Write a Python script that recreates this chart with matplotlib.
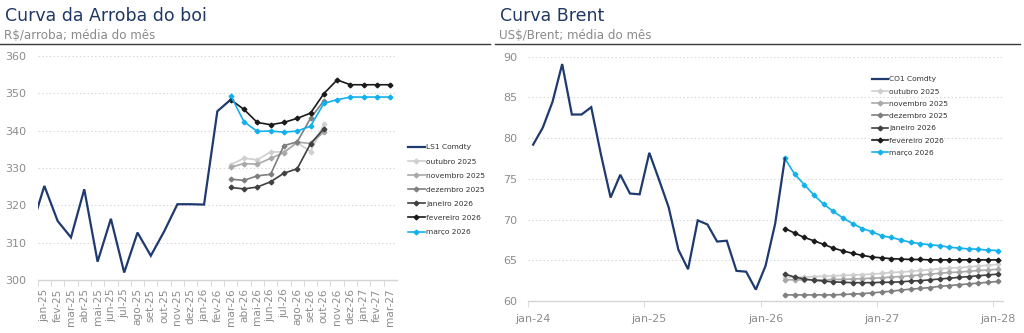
import matplotlib
matplotlib.use("Agg")
import matplotlib.pyplot as plt
from matplotlib.lines import Line2D

plt.rcParams["font.family"] = ["DejaVu Sans"]

# ---------------- Arroba do boi (R$/arroba) ----------------
arroba_meses = ["dez-24",
                "jan-25", "fev-25", "mar-25", "abr-25", "mai-25", "jun-25",
                "jul-25", "ago-25", "set-25", "out-25", "nov-25", "dez-25",
                "jan-26", "fev-26", "mar-26", "abr-26", "mai-26", "jun-26",
                "jul-26", "ago-26", "set-26", "out-26", "nov-26", "dez-26",
                "jan-27", "fev-27", "mar-27"]

ls1_valores = [313.6, 325.2, 315.8, 311.4, 324.3, 304.9, 316.4, 302.0,
               312.7, 306.5, 313.0, 320.3, 320.3, 320.2, 345.2, 348.3]

arroba_curvas = {
    "outubro 2025":   [330.9, 332.6, 332.2, 334.3, 334.3, 336.8, 334.4, 341.7],
    "novembro 2025":  [330.2, 331.2, 331.0, 332.6, 334.1, 336.9, 336.6, 339.6],
    "dezembro 2025":  [327.0, 326.7, 327.9, 328.3, 336.0, 337.0, 343.3, 348.0],
    "janeiro 2026":   [324.8, 324.4, 324.9, 326.3, 328.6, 329.8, 336.5, 340.5],
    "fevereiro 2026": [348.3, 345.7, 342.2, 341.6, 342.2, 343.3, 344.7, 349.9,
                       353.6, 352.3, 352.3, 352.3, 352.3],
    "março 2026":     [349.4, 342.4, 339.8, 339.9, 339.6, 339.9, 341.2, 347.3,
                       348.3, 349.0, 349.0, 349.0, 349.0],
}
arroba_inicio_curvas = "mar-26"

# ---------------- Brent (US$/barril) ----------------
brent_meses = [f"{m}-{a}" for a in ("24", "25", "26", "27")
               for m in ("jan", "fev", "mar", "abr", "mai", "jun",
                         "jul", "ago", "set", "out", "nov", "dez")] + ["jan-28"]

co1_valores = [79.2, 81.3, 84.45, 89.1, 82.9, 82.9, 83.8, 78.0, 72.7, 75.5,
               73.2, 73.1, 78.2, 74.9, 71.5, 66.3, 63.9, 69.9, 69.4, 67.3,
               67.4, 63.7, 63.6, 61.4, 64.3, 69.5, 77.5]

brent_curvas = {
    "outubro 2025":   [62.9, 62.9, 62.95, 63.0, 63.05, 63.1, 63.15, 63.2, 63.25,
                       63.3, 63.4, 63.5, 63.55, 63.65, 63.75, 63.85, 63.95, 64.05,
                       64.1, 64.2, 64.3, 64.4, 64.5],
    "novembro 2025":  [62.6, 62.6, 62.6, 62.6, 62.6, 62.65, 62.65, 62.7, 62.75,
                       62.8, 62.85, 62.95, 63.0, 63.1, 63.2, 63.3, 63.4, 63.5,
                       63.55, 63.65, 63.75, 63.8, 63.9],
    "dezembro 2025":  [60.75, 60.75, 60.75, 60.75, 60.75, 60.75, 60.8, 60.85, 60.9,
                       61.0, 61.1, 61.2, 61.35, 61.45, 61.55, 61.65, 61.8, 61.9,
                       62.0, 62.1, 62.2, 62.3, 62.4],
    "janeiro 2026":   [63.3, 62.95, 62.7, 62.55, 62.45, 62.35, 62.3, 62.25, 62.25,
                       62.25, 62.3, 62.3, 62.35, 62.45, 62.5, 62.6, 62.7, 62.8,
                       62.9, 63.0, 63.1, 63.2, 63.3],
    "fevereiro 2026": [68.9, 68.35, 67.8, 67.4, 66.95, 66.5, 66.15, 65.85, 65.6,
                       65.4, 65.3, 65.2, 65.15, 65.1, 65.1, 65.05, 65.05, 65.05,
                       65.05, 65.05, 65.05, 65.05, 65.05],
    "março 2026":     [77.5, 75.6, 74.3, 73.0, 71.9, 71.0, 70.2, 69.5, 68.9,
                       68.5, 68.0, 67.8, 67.5, 67.2, 67.05, 66.9, 66.8, 66.6,
                       66.5, 66.4, 66.35, 66.25, 66.2],
}
brent_inicio_curvas = "mar-26"
brent_rotulos = ["jan-24", "jan-25", "jan-26", "jan-27", "jan-28"]

# ---------------- styles ----------------
AZUL = "#1F3A6E"
cores = {
    "outubro 2025": "#CFCFCF",
    "novembro 2025": "#A9A9A9",
    "dezembro 2025": "#7F7F7F",
    "janeiro 2026": "#404040",
    "fevereiro 2026": "#1A1A1A",
    "março 2026": "#13B0EE",
}
CINZA_TXT = "#8C8C8C"
CINZA_GRADE = "#D5D5D5"
W, H = 1024, 333


def fx(px):
    return px / W


def fy(px):
    return 1 - px / H


fig = plt.figure(figsize=(W / 100, H / 100), dpi=100)


def cabecalho(x0, x1, titulo, subtitulo):
    fig.text(fx(x0), fy(20.7), titulo, fontsize=12.5, color="#1F3864",
             ha="left", va="baseline")
    fig.text(fx(x0 - 1), fy(39.3), subtitulo, fontsize=8.6, color="#8A8A8A",
             ha="left", va="baseline")
    fig.add_artist(Line2D([fx(x0 - 5), fx(x1)], [fy(44), fy(44)],
                          color="#3A3A3A", lw=1.0, transform=fig.transFigure))


def estilo_eixo(ax, yticks):
    for s in ("top", "right", "left"):
        ax.spines[s].set_visible(False)
    ax.spines["bottom"].set_color(CINZA_GRADE)
    ax.spines["bottom"].set_linewidth(1.0)
    ax.set_yticks(yticks)
    ax.tick_params(axis="y", length=0, labelsize=8, labelcolor=CINZA_TXT, pad=8)
    for v in yticks[1:]:
        ax.axhline(v, color=CINZA_GRADE, lw=0.8, ls=(0, (1.2, 2.2)), zorder=0)


# ---------- left panel ----------
cabecalho(5, 490, "Curva da Arroba do boi", "R$/arroba; média do mês")
ax1 = fig.add_axes([fx(37.7), fy(280), fx(397) - fx(37.7), fy(56) - fy(280)])
xs = list(range(len(arroba_meses)))
ax1.plot(xs[:len(ls1_valores)], ls1_valores, color=AZUL, lw=1.6,
         label="LS1 Comdty", zorder=5, solid_joinstyle="miter")
i0 = arroba_meses.index(arroba_inicio_curvas)
for nome, vals in arroba_curvas.items():
    ax1.plot(xs[i0:i0 + len(vals)], vals, color=cores[nome], lw=1.2,
             marker="D", ms=2.4, label=nome, zorder=4)
ax1.set_xlim(0.5, len(arroba_meses) - 0.5)
ax1.set_ylim(300, 360)
estilo_eixo(ax1, list(range(300, 361, 10)))
ax1.set_xticks(xs[1:])
ax1.set_xticklabels(arroba_meses[1:], rotation=90, fontsize=7.6, color=CINZA_TXT)
ax1.set_xticks([x + 0.5 for x in xs[:-1]], minor=True)
ax1.tick_params(axis="x", which="major", length=0, pad=6)
ax1.tick_params(axis="x", which="minor", length=4, color=CINZA_GRADE)
leg1 = ax1.legend(loc="center left", bbox_to_anchor=(fx(408), fy(189.7)),
                  bbox_transform=fig.transFigure, frameon=False, fontsize=5.4,
                  handlelength=2.25, handletextpad=0.1, labelspacing=1.05,
                  borderpad=0, borderaxespad=0, labelcolor="#333333")

# ---------- right panel ----------
cabecalho(500, 1020, "Curva Brent", "US$/Brent; média do mês")
ax2 = fig.add_axes([fx(528.3), fy(301), fx(1002.7) - fx(528.3), fy(56.7) - fy(301)])
ms = list(range(len(brent_meses)))
ax2.plot(ms[:len(co1_valores)], co1_valores, color=AZUL, lw=1.6,
         label="CO1 Comdty", zorder=5, solid_joinstyle="miter")
j0 = brent_meses.index(brent_inicio_curvas)
for nome, vals in brent_curvas.items():
    ax2.plot(ms[j0:j0 + len(vals)], vals, color=cores[nome], lw=1.2,
             marker="D", ms=2.4, label=nome, zorder=4)
ax2.set_xlim(-0.5, len(brent_meses) - 0.5)
ax2.set_ylim(60, 90)
estilo_eixo(ax2, list(range(60, 91, 5)))
pos_rot = [brent_meses.index(r) for r in brent_rotulos]
ax2.set_xticks(pos_rot)
ax2.set_xticklabels(brent_rotulos, fontsize=8, color=CINZA_TXT)
ax2.set_xticks([p - 0.5 for p in pos_rot], minor=True)
ax2.tick_params(axis="x", which="major", length=0, pad=9)
ax2.tick_params(axis="x", which="minor", length=4, color=CINZA_GRADE)
leg2 = ax2.legend(loc="center left", bbox_to_anchor=(fx(871.7), fy(116)),
                  bbox_transform=fig.transFigure, frameon=False, fontsize=5.4,
                  handlelength=2.2, handletextpad=0.1, labelspacing=0.8,
                  borderpad=0, borderaxespad=0, labelcolor="#333333")

fig.savefig("out.png", dpi=100, facecolor="white")
